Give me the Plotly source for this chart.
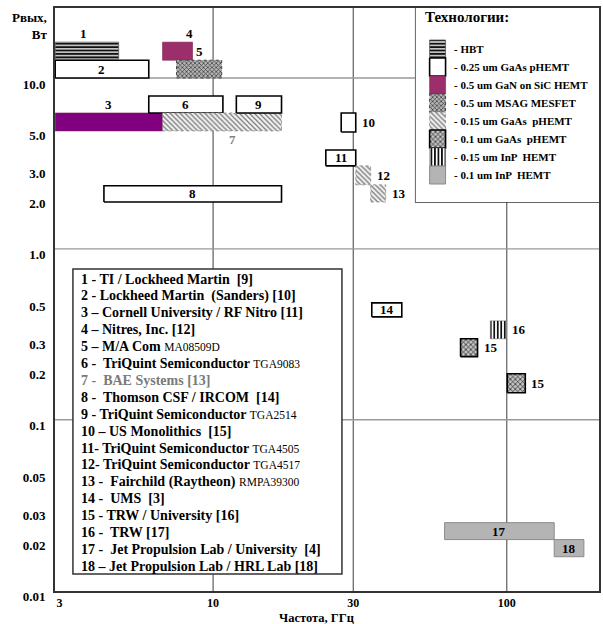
import math
import plotly.graph_objects as go

# ---------------- data ----------------
bar_ids = ["1", "2", "3", "4", "5", "6", "7", "8", "9", "10", "11", "12", "13",
           "14", "15", "15", "16", "17", "18"]
freq_lo = [2.9, 2.9, 2.9, 6.73, 7.51, 6.04, 6.73, 4.25, 12.0, 27.3, 24.2, 30.6, 34.4,
           34.7, 69.6, 100.4, 87.9, 61.4, 145.0]
freq_hi = [4.77, 6.04, 6.73, 8.51, 10.7, 10.8, 17.1, 17.1, 17.1, 30.6, 30.6, 34.4, 38.7,
           43.9, 79.5, 115.6, 99.6, 145.0, 183.0]
pout_lo = [12.9, 10.0, 4.90, 12.7, 10.0, 6.24, 4.90, 1.88, 6.24, 4.83, 3.06, 2.37, 1.88,
           0.400, 0.234, 0.144, 0.298, 0.0199, 0.0158]
pout_hi = [16.2, 12.7, 6.24, 16.2, 12.7, 7.85, 6.24, 2.34, 7.85, 6.24, 3.79, 3.06, 2.37,
           0.483, 0.298, 0.186, 0.379, 0.0250, 0.0199]
bar_tech = ["HBT", "GaAs025", "GaN", "GaN", "MSAG", "GaAs025", "GaAs015", "GaAs025",
            "GaAs025", "GaAs025", "GaAs025", "GaAs015", "GaAs015", "GaAs025", "GaAs01",
            "GaAs01", "InP015", "InP01", "InP01"]
label_pos = ["above", "center", "above", "above", "above", "center", "below", "center",
             "center", "right", "center", "right", "right", "center", "right", "right",
             "right", "center", "center"]

tech_keys = ["HBT", "GaAs025", "GaN", "MSAG", "GaAs015", "GaAs01", "InP015", "InP01"]
tech_labels = ["- HBT", "- 0.25 um GaAs pHEMT", "- 0.5 um GaN on SiC HEMT",
               "- 0.5 um MSAG MESFET", "- 0.15 um GaAs  pHEMT", "- 0.1 um GaAs  pHEMT",
               "- 0.15 um InP  HEMT", "- 0.1 um InP  HEMT"]
legend_title = "Технологии:"

source_main = ["1 - TI / Lockheed Martin  [9]",
               "2 - Lockheed Martin  (Sanders) [10]",
               "3 – Cornell University / RF Nitro [11]",
               "4 – Nitres, Inc. [12]",
               "5 – M/A Com ",
               "6 -  TriQuint Semiconductor ",
               "7 -  BAE Systems [13]",
               "8 -  Thomson CSF / IRCOM  [14]",
               "9 - TriQuint Semiconductor ",
               "10 – US Monolithics  [15]",
               "11- TriQuint Semiconductor ",
               "12- TriQuint Semiconductor ",
               "13 -  Fairchild (Raytheon) ",
               "14 -  UMS  [3]",
               "15 - TRW / University [16]",
               "16 -  TRW [17]",
               "17 -  Jet Propulsion Lab / University  [4]",
               "18 – Jet Propulsion Lab / HRL Lab [18]"]
source_part = ["", "", "", "", "MA08509D", "TGA9083", "", "", "TGA2514", "", "TGA4505",
               "TGA4517", "RMPA39300", "", "", "", "", ""]

y_tickvals = [10, 5, 3, 2, 1, 0.5, 0.3, 0.2, 0.1, 0.05, 0.03, 0.02, 0.01]
y_ticktext = ["10.0", "5.0", "3.0", "2.0", "1.0", "0.5", "0.3", "0.2", "0.1", "0.05",
              "0.03", "0.02", "0.01"]
x_tickvals = [3, 10, 30, 100]
x_ticktext = ["3", "10", "30", "100"]
x_grid = [10, 30, 100]
y_grid = [10, 1, 0.1]

# ---------------- styles ----------------
SERIF = "Liberation Serif"
styles = {
    "HBT": dict(pattern=dict(shape="-", fgcolor="#111111", bgcolor="#d8d8d8", size=3.4, solidity=0.55),
                line=dict(color="#555555", width=0.8)),
    "GaAs025": dict(fill="#ffffff", line=dict(color="#000000", width=1.6)),
    "GaN": dict(fill="#9c2f6b", line=dict(color="#7a2050", width=0.6)),
    "MSAG": dict(pattern=dict(shape="x", fgcolor="#333333", bgcolor="#b4b4b4", size=3, solidity=0.4),
                 line=dict(color="#444444", width=1, dash="dot")),
    "GaAs015": dict(pattern=dict(shape="\\", fgcolor="#777777", bgcolor="#f4f4f4", size=3.5, solidity=0.35),
                    line=dict(color="#8a8a8a", width=0.8, dash="dot")),
    "GaAs01": dict(pattern=dict(shape="x", fgcolor="#2a2a2a", bgcolor="#c4c4c4", size=3.5, solidity=0.4),
                   line=dict(color="#000000", width=1.6)),
    "InP015": dict(pattern=dict(shape="|", fgcolor="#111111", bgcolor="#ffffff", size=3.5, solidity=0.5),
                   line=dict(color="#666666", width=0.5)),
    "InP01": dict(fill="#b4b4b4", line=dict(color="#8a8a8a", width=1)),
}
fill_override = {2: "#800080"}  # bar 3 drawn in deep purple

# layout geometry (pixels) for non-data decorations
W, H = 603, 624
ML, MR, MT, MB = 55, 2, 8, 33
PW, PH = W - ML - MR, H - MT - MB


def px_x(px):
    return (px - ML) / PW


def px_y(py):
    return 1 - (py - MT) / PH


def poly_trace(x0, x1, y0, y1, st, override=None, xa="x", ya="y"):
    kw = dict(x=[x0, x1, x1, x0, x0], y=[y0, y0, y1, y1, y0], mode="lines",
              fill="toself", line=st["line"], hoverinfo="skip", showlegend=False,
              xaxis=xa, yaxis=ya)
    if override:
        kw["fillcolor"] = override
    elif "pattern" in st:
        kw["fillpattern"] = dict(**st["pattern"], fillmode="replace")
        kw["fillcolor"] = st["pattern"]["bgcolor"]
    else:
        kw["fillcolor"] = st["fill"]
    return go.Scatter(**kw)


fig = go.Figure()

# bars
for i in range(len(bar_ids)):
    fig.add_trace(poly_trace(freq_lo[i], freq_hi[i], pout_lo[i], pout_hi[i],
                             styles[bar_tech[i]], fill_override.get(i)))

# legend swatches (separate small subplot)
for r, key in enumerate(tech_keys):
    fig.add_trace(poly_trace(14, 30, r, r + 1, styles[key], xa="x2", ya="y2"))

annotations = []
label_font = dict(family=SERIF, size=13, color="#000000", weight="bold")
dx_extra = {3: 12, 6: 10, 0: -3}
for i, lab in enumerate(bar_ids):
    x0, x1, y0, y1 = freq_lo[i], freq_hi[i], pout_lo[i], pout_hi[i]
    cx = math.log10(math.sqrt(x0 * x1))
    cy = math.log10(math.sqrt(y0 * y1))
    pos = label_pos[i]
    f = dict(label_font)
    if lab == "7":
        f["color"] = "#808080"
    a = dict(text=lab, showarrow=False, xref="x", yref="y", font=f,
             xshift=dx_extra.get(i, 0))
    if pos == "center":
        a.update(x=cx, y=cy, xanchor="center", yanchor="middle")
    elif pos == "above":
        a.update(x=cx, y=math.log10(y1), xanchor="center", yanchor="bottom", yshift=-1)
    elif pos == "below":
        a.update(x=cx, y=math.log10(y0), xanchor="center", yanchor="top", yshift=1)
    else:
        a.update(x=math.log10(x1), y=cy, xanchor="left", yanchor="middle",
                 xshift=4 + dx_extra.get(i, 0))
    annotations.append(a)

# legend texts
annotations.append(dict(text=legend_title, x=7, y=-1.28, xref="x2", yref="y2",
                        xanchor="left", yanchor="middle", showarrow=False,
                        font=dict(family=SERIF, size=15, color="#000", weight="bold")))
for r, t in enumerate(tech_labels):
    annotations.append(dict(text=t, x=36, y=r + 0.5, xref="x2", yref="y2",
                            xanchor="left", yanchor="middle", showarrow=False,
                            font=dict(family=SERIF, size=11, color="#000", weight="bold")))

# source list
for i, (m, p) in enumerate(zip(source_main, source_part)):
    color = "#7a7a7a" if i == 6 else "#000000"
    txt = m.replace("  ", "&nbsp; ")
    if p:
        txt += '<span style="font-weight:normal;font-size:11.5px">' + p + "</span>"
    annotations.append(dict(text=txt, x=px_x(79), y=px_y(279 + 16.9 * i),
                            xref="paper", yref="paper", xanchor="left", yanchor="middle",
                            showarrow=False,
                            font=dict(family=SERIF, size=14, color=color, weight="bold")))

# axis titles
annotations.append(dict(text="Рвых,<br>Вт", x=px_x(49), y=px_y(26), xref="paper",
                        yref="paper", xanchor="right", yanchor="middle", align="right",
                        showarrow=False,
                        font=dict(family=SERIF, size=13, color="#000", weight="bold")))
annotations.append(dict(text="Частота, ГГц", x=px_x(317), y=px_y(617.5), xref="paper",
                        yref="paper", xanchor="center", yanchor="middle", showarrow=False,
                        font=dict(family=SERIF, size=12.5, color="#000", weight="bold")))

shapes = []
for g in x_grid:
    shapes.append(dict(type="line", xref="x", yref="y domain", x0=g, x1=g, y0=0, y1=1,
                       line=dict(color="#3c3c3c", width=1), layer="below"))
for g in y_grid:
    shapes.append(dict(type="line", xref="x domain", yref="y", x0=0, x1=1, y0=g, y1=g,
                       line=dict(color="#9a9a9a", width=1.4), layer="below"))
# legend box and source box (opaque, above gridlines)
shapes.append(dict(type="rect", xref="x domain", yref="y domain",
                   x0=px_x(417), x1=1, y0=px_y(202), y1=1,
                   fillcolor="#ffffff", line=dict(color="#333333", width=1.5), layer="below"))
shapes.append(dict(type="rect", xref="x domain", yref="y domain",
                   x0=px_x(73), x1=px_x(343), y0=px_y(574), y1=px_y(269),
                   fillcolor="#ffffff", line=dict(color="#333333", width=1.5), layer="below"))

tick_font = dict(family=SERIF, size=13, color="#000", weight="bold")
fig.update_layout(
    width=W, height=H, margin=dict(l=ML, r=MR, t=MT, b=MB),
    paper_bgcolor="#ffffff", plot_bgcolor="#ffffff", showlegend=False,
    font=dict(family=SERIF),
    xaxis=dict(type="log", range=[0.4618, 2.3139], tickvals=x_tickvals, ticktext=x_ticktext,
               showgrid=False, zeroline=False, showline=True, mirror=True,
               linecolor="#333333", linewidth=2, ticks="",
               tickfont=dict(family=SERIF, size=12, color="#000", weight="bold"),
               ticklabelstandoff=0),
    yaxis=dict(type="log", range=[-2.002, 1.4094], tickvals=y_tickvals, ticktext=y_ticktext,
               showgrid=False, zeroline=False, showline=True, mirror=True,
               linecolor="#333333", linewidth=2, ticks="", tickfont=tick_font,
               ticklabelshift=6, ticklabelstandoff=5),
    xaxis2=dict(domain=[px_x(417), 1], range=[0, 184], anchor="y2", visible=False,
                fixedrange=True),
    yaxis2=dict(domain=[px_y(202), 1], range=[(202 - 40) / 18, (8 - 40) / 18], anchor="x2",
                visible=False, fixedrange=True),
    annotations=annotations, shapes=shapes,
)

fig.write_html(
    "out.html",
    config={"displayModeBar": False},
    post_script="document.body.style.margin='0px';document.body.style.overflow='hidden';",
)
